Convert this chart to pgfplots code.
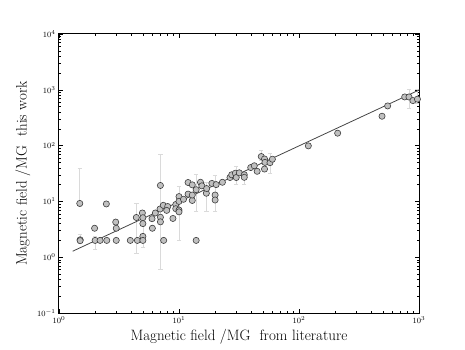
\documentclass[border=0pt]{standalone}
\usepackage{pgfplots}
\pgfplotsset{compat=1.18}
\definecolor{markfill}{RGB}{192,192,192}
\definecolor{markedge}{RGB}{60,60,60}
\definecolor{errgrey}{RGB}{218,218,218}
\definecolor{fitline}{RGB}{70,70,70}
\begin{document}
\begin{tikzpicture}
\begin{axis}[
  xmode=log, ymode=log,
  scale only axis,
  width=360pt, height=279pt,
  xmin=1, xmax=1000, ymin=0.1, ymax=10000,
  axis line style={line width=1pt},
  tick align=inside,
  major tick length=4pt, minor tick length=2pt,
  every tick/.style={black, line width=0.5pt},
  tick label style={font=\fontsize{8}{9}\selectfont},
  xlabel={Magnetic field /MG\ \ from literature},
  ylabel={Magnetic field /MG\ \ this work},
  every axis x label/.style={at={(axis description cs:0.5,-0.047)}, anchor=north,
    font=\fontsize{15}{18}\selectfont},
  every axis y label/.style={at={(axis description cs:-0.07,0.5)}, rotate=90, anchor=south,
    font=\fontsize{15}{18}\selectfont},
]
% error bars (behind the markers)
\addplot[errgrey, only marks, mark=none, forget plot,
  error bars/.cd, y dir=both, y explicit,
  error bar style={errgrey, line width=0.7pt},
  error mark options={errgrey, rotate=90, mark size=2.2pt, line width=0.7pt}]
coordinates {
(1.49,9.2) += (0,30) -= (0,1)
(1.5,2.05) += (0,0.5) -= (0,0.3)
(2,2) += (0,0.4) -= (0,0.6)
(4.41,5.15) += (0,4.2) -= (0,4)
(5,4.0) += (0,3) -= (0,2.5)
(7,19.3) += (0,51) -= (0,18.7)
(10,7) += (0,11.5) -= (0,5)
(13.9,16.2) += (0,14) -= (0,9.7)
(17,14) += (0,8) -= (0,7.5)
(20,13) += (0,16) -= (0,6.5)
(30,27) += (0,15) -= (0,7)
(35,27) += (0,5) -= (0,7)
(48.5,63.7) += (0,17) -= (0,10)
(57.3,49.4) += (0,24) -= (0,17)
(825,745) += (0,255) -= (0,275)
(970,680) += (0,320) -= (0,100)
};
% measurements
\addplot[only marks, mark=*, mark size=3.1pt,
  mark options={fill=markfill, draw=markedge, line width=0.6pt}]
coordinates {
(1.49,9.2) (1.5,2.05) (1.5,1.98) (1.98,3.3) (2,2) (2.2,2) (2.48,9.0)
(2.5,2) (2.97,4.26) (3,3.3) (3,2) (3.93,2) (4.41,5.15) (4.5,2)
(4.95,6.2) (5,5.1) (5,4.0) (5,2.36) (5,2) (5.96,4.9) (6,3.3)
(6.35,6.2) (6.95,7.3) (7,19.3) (7,5.2) (7,4.3) (7.45,2) (7.4,8.5)
(8.05,8.1) (7.9,6.9) (8.9,4.95) (9.4,8.8) (9.4,7.4) (10,12.2)
(10,10) (10,7) (10,6.5) (10.9,10.9) (11.9,21.8) (11.9,13.5)
(12.9,10.4) (12.9,19.8) (12.9,13) (13.9,2) (13.9,16.2) (15.1,22)
(15.5,19) (16.9,14) (17,17) (18.8,21) (20,13) (20,10.6) (20.4,20)
(23,22) (26.6,26.8) (27.5,30) (29.5,32) (30,26.8) (31.8,32.5)
(35,30) (35,27) (39.6,40.4) (42.4,43.5) (44.8,34.6) (48.5,63.7)
(51.6,57.6) (51.6,38) (52,50) (57.3,49.4) (60,57) (119.6,98.9)
(210,167) (492,336) (548,514) (760,745) (825,745) (890,641) (970,680)
};
% one-to-one line
\addplot[fitline, line width=0.8pt, mark=none] coordinates {(1.3,1.28) (1000,990)};
\end{axis}
\pgfresetboundingbox
\path ([shift={(-59pt,-37pt)}]current axis.south west) rectangle ([shift={(46pt,34pt)}]current axis.north east);
\end{tikzpicture}
\end{document}
